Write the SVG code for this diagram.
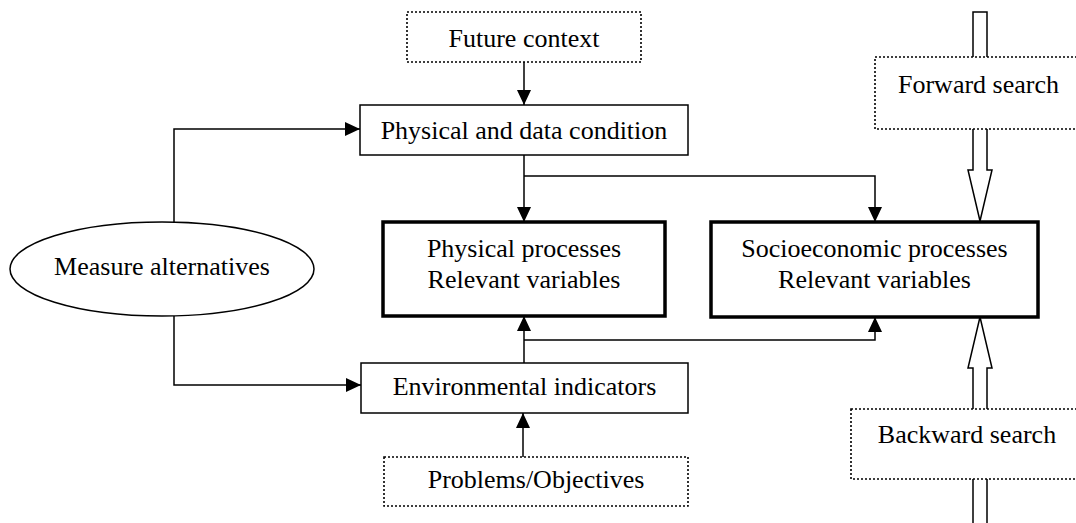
<svg xmlns="http://www.w3.org/2000/svg" width="1076" height="523" viewBox="0 0 1076 523">
  <style>
    text { font-family: "Liberation Serif", "Times New Roman", serif; font-size: 26px; fill: #000; text-anchor: middle; }
    .box { fill: #fff; stroke: #000; stroke-width: 1.5; }
    .thick { fill: #fff; stroke: #000; stroke-width: 3.5; }
    .dotted { fill: #fff; stroke: #000; stroke-width: 1.6; stroke-dasharray: 2 2; }
    .conn { fill: none; stroke: #000; stroke-width: 1.5; }
    .hollow { fill: #fff; stroke: #000; stroke-width: 1.5; stroke-linejoin: miter; }
  </style>
  <defs>
    <marker id="arrow" markerUnits="userSpaceOnUse" markerWidth="15" markerHeight="14" refX="15" refY="7" orient="auto">
      <path d="M0,0 L15,7 L0,14 z" fill="#000"/>
    </marker>
  </defs>

  <rect width="1076" height="523" fill="#fff"/>

  <!-- hollow search arrows -->
  <g id="search-arrows">
    <path class="hollow" d="M973,12 L987,12 L987,170 L992,170 L980,221 L968,170 L973,170 Z"/>
    <path class="hollow" d="M980,317 L992,368 L987,368 L987,530 L973,530 L973,368 L968,368 Z"/>
  </g>

  <!-- connectors -->
  <g id="connectors">
    <path class="conn" d="M524,62 V105" marker-end="url(#arrow)"/>
    <path class="conn" d="M174,222 V129 H360" marker-end="url(#arrow)"/>
    <path class="conn" d="M174,316 V385 H361" marker-end="url(#arrow)"/>
    <path class="conn" d="M524,155 V222" marker-end="url(#arrow)"/>
    <path class="conn" d="M524,176 H875 V222" marker-end="url(#arrow)"/>
    <path class="conn" d="M524,363 V316" marker-end="url(#arrow)"/>
    <path class="conn" d="M524,340 H875 V317" marker-end="url(#arrow)"/>
    <path class="conn" d="M523,457 V413" marker-end="url(#arrow)"/>
  </g>

  <g id="future-context">
    <rect class="dotted" x="407" y="12" width="234" height="50"/>
    <text x="524" y="47">Future context</text>
  </g>

  <g id="physical-data-condition">
    <rect class="box" x="360" y="105" width="328" height="50"/>
    <text x="524" y="139">Physical and data condition</text>
  </g>

  <g id="measure-alternatives">
    <ellipse class="box" cx="162" cy="269" rx="152" ry="47"/>
    <text x="162" y="275">Measure alternatives</text>
  </g>

  <g id="physical-processes">
    <rect class="thick" x="383" y="222" width="282" height="94"/>
    <text x="524" y="257">Physical processes</text>
    <text x="524" y="288">Relevant variables</text>
  </g>

  <g id="socioeconomic-processes">
    <rect class="thick" x="711" y="222" width="327" height="95"/>
    <text x="874.5" y="257">Socioeconomic processes</text>
    <text x="874.5" y="288">Relevant variables</text>
  </g>

  <g id="environmental-indicators">
    <rect class="box" x="361" y="363" width="327" height="50"/>
    <text x="524.5" y="395">Environmental indicators</text>
  </g>

  <g id="problems-objectives">
    <rect class="dotted" x="384" y="457" width="304" height="49"/>
    <text x="536" y="488">Problems/Objectives</text>
  </g>

  <g id="forward-search">
    <rect class="dotted" x="875" y="57" width="210" height="72"/>
    <text x="978.5" y="93">Forward search</text>
  </g>

  <g id="backward-search">
    <rect class="dotted" x="851" y="409" width="235" height="70"/>
    <text x="967" y="443">Backward search</text>
  </g>
</svg>
